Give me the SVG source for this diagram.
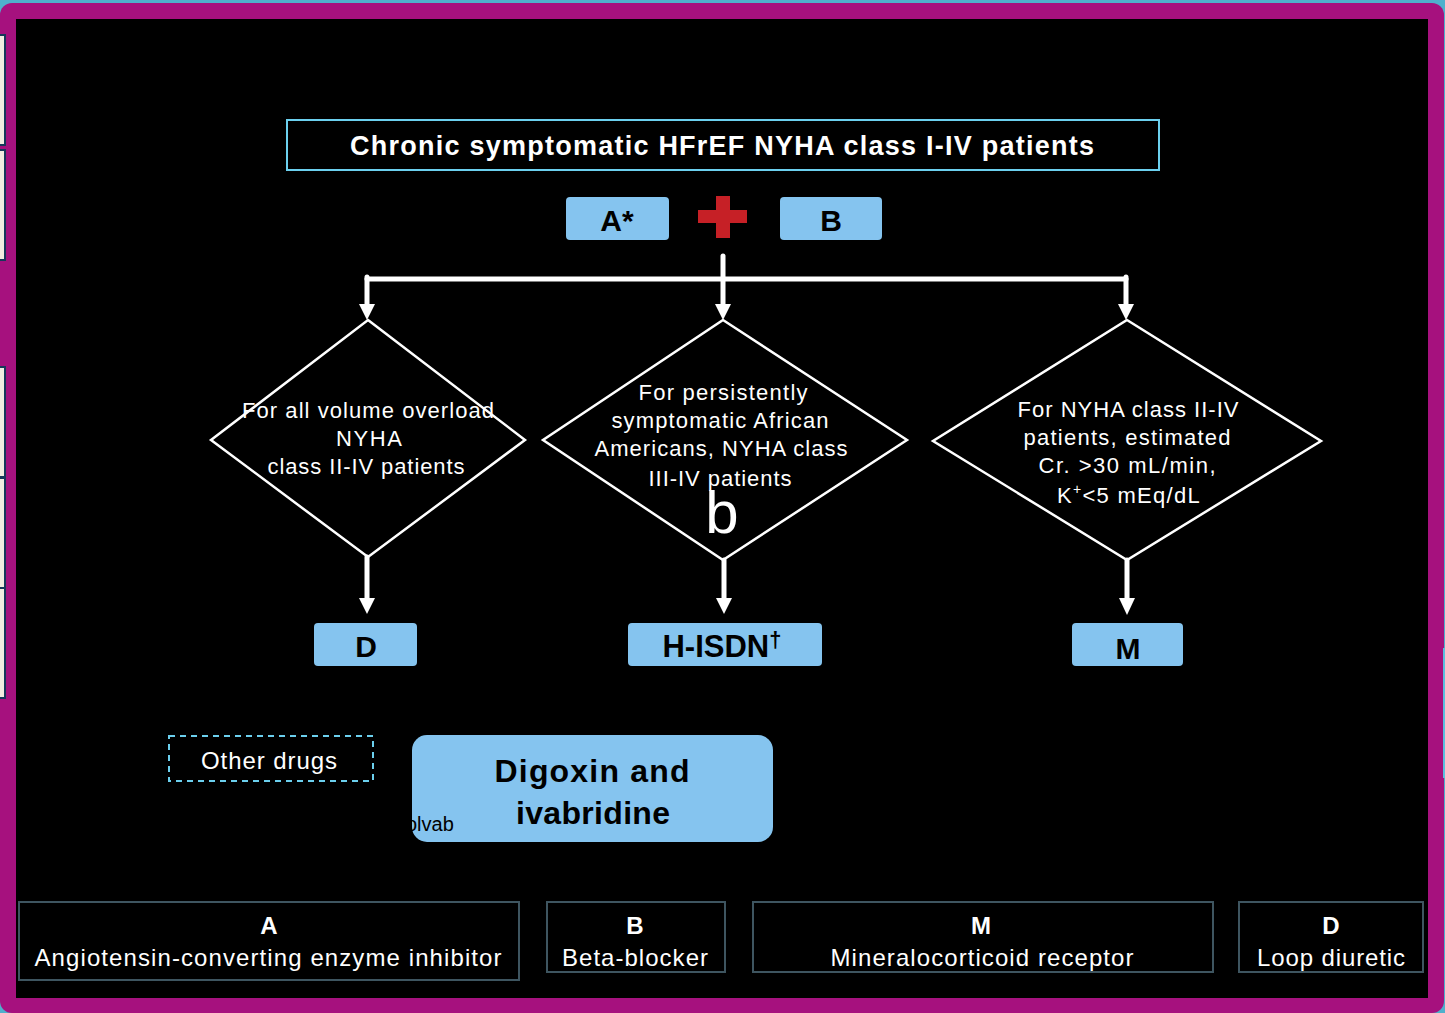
<svg xmlns="http://www.w3.org/2000/svg" width="1445" height="1013" viewBox="0 0 1445 1013">
<defs>
<style>
.pill{fill:#85C4EF}
.lbl{font-family:"Liberation Sans",Arial,sans-serif;font-weight:bold;fill:#000;text-anchor:middle}
.dia{fill:none;stroke:#fff;stroke-width:2.5}
.dt{font-family:"Liberation Sans",Arial,sans-serif;font-size:22px;fill:#fff;text-anchor:middle}
.conn{stroke:#fff;stroke-width:5;fill:none;stroke-linecap:round}
.leg{fill:none;stroke:#3E5560;stroke-width:2}
.lt{font-family:"Liberation Sans",Arial,sans-serif;font-size:24px;fill:#fff;text-anchor:middle}
.side{fill:#F3EDE1;stroke:#16385A;stroke-width:2}
</style>
</defs>
<rect width="1445" height="1013" fill="#4FB0CC"/>
<rect x="0" y="3" width="1444" height="1010" rx="12" fill="#A6117E"/>
<rect x="16" y="19" width="1412" height="979" fill="#000"/>
<g id="side-tabs">
<rect class="side" x="-4" y="35" width="9" height="110"/>
<rect class="side" x="-4" y="150" width="9" height="110"/>
<rect class="side" x="-4" y="367" width="9" height="110"/>
<rect class="side" x="-4" y="478" width="9" height="110"/>
<rect class="side" x="-4" y="588" width="9" height="110"/>
<rect x="1443" y="648" width="2" height="130" fill="#5BC0DE"/>
</g>
<g id="title">
<rect x="287" y="120" width="872" height="50" fill="none" stroke="#6CD0EE" stroke-width="2"/>
<text x="722" y="155" font-family="Liberation Sans,Arial,sans-serif" font-weight="bold" font-size="27" fill="#fff" text-anchor="middle" textLength="744" lengthAdjust="spacing">Chronic symptomatic  HFrEF NYHA class I-IV patients</text>
</g>
<g id="node-a">
<rect class="pill" x="566" y="197" width="103" height="43" rx="4"/>
<text class="lbl" x="617" y="231" font-size="30">A*</text>
</g>
<g id="plus">
<rect x="698" y="210" width="49" height="13" fill="#C62026"/>
<rect x="716" y="196" width="14" height="42" fill="#C62026"/>
</g>
<g id="node-b">
<rect class="pill" x="780" y="197" width="102" height="43" rx="4"/>
<text class="lbl" x="831" y="231" font-size="30">B</text>
</g>
<g id="connectors">
<line class="conn" x1="367" y1="279" x2="1126" y2="279"/>
<line class="conn" x1="723" y1="256" x2="723" y2="306"/>
<line class="conn" x1="367" y1="277" x2="367" y2="306"/>
<line class="conn" x1="1126" y1="277" x2="1126" y2="306"/>
<path d="M715,304 L731,304 L723,320 Z" fill="#fff"/>
<path d="M359,304 L375,304 L367,320 Z" fill="#fff"/>
<path d="M1118,304 L1134,304 L1126,320 Z" fill="#fff"/>
<line class="conn" x1="367" y1="557" x2="367" y2="600" stroke-linecap="butt"/>
<line class="conn" x1="724" y1="560" x2="724" y2="600" stroke-linecap="butt"/>
<line class="conn" x1="1127" y1="560" x2="1127" y2="600" stroke-linecap="butt"/>
<path d="M359,598 L375,598 L367,614 Z" fill="#fff"/>
<path d="M716,598 L732,598 L724,614 Z" fill="#fff"/>
<path d="M1119,598 L1135,598 L1127,615 Z" fill="#fff"/>
</g>
<g id="decision-volume">
<polygon class="dia" points="368,320 525,440 368,557 211,440"/>
<text class="dt" x="368" y="418" textLength="252" lengthAdjust="spacing">For all volume overload</text>
<text class="dt" x="369" y="446" textLength="66" lengthAdjust="spacing">NYHA</text>
<text class="dt" x="366" y="474" textLength="197" lengthAdjust="spacing">class II-IV patients</text>
</g>
<g id="decision-african">
<polygon class="dia" points="723,320 907,440 723,560 543,440"/>
<text class="dt" x="723" y="400" textLength="169" lengthAdjust="spacing">For persistently</text>
<text class="dt" x="720" y="428" textLength="217" lengthAdjust="spacing">symptomatic African</text>
<text class="dt" x="721" y="456" textLength="253" lengthAdjust="spacing">Americans, NYHA class</text>
<text class="dt" x="720" y="486" textLength="143" lengthAdjust="spacing">III-IV  patients</text>
<text x="722" y="533" font-family="Liberation Sans,Arial,sans-serif" font-size="60" fill="#fff" text-anchor="middle">b</text>
</g>
<g id="decision-nyha">
<polygon class="dia" points="1127,320 1321,441 1127,560 933,441"/>
<text class="dt" x="1128" y="417" textLength="221" lengthAdjust="spacing">For NYHA class II-IV</text>
<text class="dt" x="1127" y="445" textLength="207" lengthAdjust="spacing">patients, estimated</text>
<text class="dt" x="1127" y="473" textLength="177" lengthAdjust="spacing">Cr. &gt;30 mL/min,</text>
<text class="dt" x="1129" y="503" letter-spacing="1.3">K<tspan font-size="14" dy="-9">+</tspan><tspan dy="9">&lt;5 mEq/dL</tspan></text>
</g>
<g id="node-d">
<rect class="pill" x="314" y="623" width="103" height="43" rx="4"/>
<text class="lbl" x="366" y="657" font-size="30">D</text>
</g>
<g id="node-hisdn">
<rect class="pill" x="628" y="623" width="194" height="43" rx="4"/>
<text class="lbl" x="722" y="657" font-size="31">H-ISDN<tspan font-size="22" dy="-10">†</tspan></text>
</g>
<g id="node-m">
<rect class="pill" x="1072" y="623" width="111" height="43" rx="4"/>
<text class="lbl" x="1128" y="659" font-size="30">M</text>
</g>
<g id="other-drugs">
<rect x="169" y="736" width="204" height="45" fill="none" stroke="#6CD0EE" stroke-width="2" stroke-dasharray="6,5"/>
<text class="lt" x="269" y="769" textLength="136" lengthAdjust="spacing">Other drugs</text>
</g>
<g id="digoxin">
<rect class="pill" x="412" y="735" width="361" height="107" rx="15"/>
<text class="lbl" x="592" y="782" font-size="32" textLength="195" lengthAdjust="spacing">Digoxin  and</text>
<text class="lbl" x="593" y="824" font-size="32" textLength="154" lengthAdjust="spacing">ivabridine</text>
<text x="406" y="831" font-family="Liberation Sans,Arial,sans-serif" font-size="20" fill="#000">olvab</text>
</g>
<g id="legend-a">
<rect class="leg" x="19" y="902" width="500" height="78"/>
<text class="lt" x="269" y="934" font-weight="bold">A</text>
<text class="lt" x="268" y="966" textLength="467" lengthAdjust="spacing">Angiotensin-converting  enzyme inhibitor</text>
</g>
<g id="legend-b">
<rect class="leg" x="547" y="902" width="178" height="70"/>
<text class="lt" x="635" y="934" font-weight="bold">B</text>
<text class="lt" x="635" y="966" textLength="146" lengthAdjust="spacing">Beta-blocker</text>
</g>
<g id="legend-m">
<rect class="leg" x="753" y="902" width="460" height="70"/>
<text class="lt" x="981" y="934" font-weight="bold">M</text>
<text class="lt" x="982" y="966" textLength="303" lengthAdjust="spacing">Mineralocorticoid  receptor</text>
</g>
<g id="legend-d">
<rect class="leg" x="1239" y="902" width="184" height="70"/>
<text class="lt" x="1331" y="934" font-weight="bold">D</text>
<text class="lt" x="1331" y="966" textLength="148" lengthAdjust="spacing">Loop diuretic</text>
</g>
</svg>
